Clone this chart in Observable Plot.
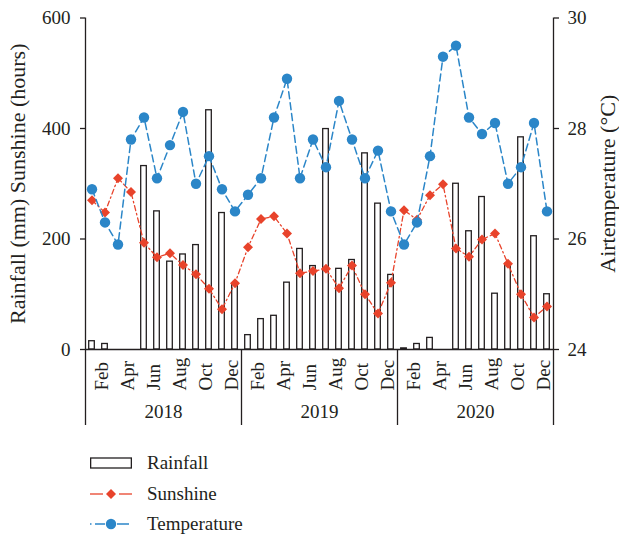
<!DOCTYPE html>
<html><head><meta charset="utf-8">
<script src="https://cdn.jsdelivr.net/npm/d3@7"></script>
<script src="https://cdn.jsdelivr.net/npm/@observablehq/plot@0.6"></script>
<style>
body{margin:0;background:#fff;}
#wrap{position:relative;width:619px;height:536px;font-family:"Liberation Serif","DejaVu Serif",serif;color:#231f20;}
.leg{position:absolute;left:90px;height:30px;display:flex;align-items:center;font-size:19px;white-space:nowrap;font-family:"Liberation Serif","DejaVu Serif",serif;}
.leg svg{margin-right:15px;display:block;}
#chart svg text{font-family:"Liberation Serif","DejaVu Serif",serif;}
</style></head><body>
<div id="wrap"><div id="chart"></div></div>
<script>
const months = ["Jan","Feb","Mar","Apr","May","Jun","Jul","Aug","Sep","Oct","Nov","Dec"];
const years = ["2018","2019","2020"];
const tickMonths = ["Feb","Apr","Jun","Aug","Oct","Dec"];
const leftTicks = [0,200,400,600];
const tempTicks = [24,26,28,30];

// Rainfall (mm), monthly Jan 2018 .. Dec 2020
const rainfall = [15,10,0,0,332,250,159,172,189,433,247,119,
                  26,55,61,121,182,151,399,146,162,355,264,135,
                  2,10,21,0,300,214,276,101,155,384,205,100];
// Sunshine (hours)
const sunshine = [270,248,310,285,193,167,174,153,136,110,73,120,
                  185,236,241,210,138,142,146,111,152,100,65,121,
                  252,235,279,299,183,168,199,210,155,100,58,78];
// Air temperature (°C)
const temperature = [26.9,26.3,25.9,27.8,28.2,27.1,27.7,28.3,27.0,27.5,26.9,26.5,
                     26.8,27.1,28.2,28.9,27.1,27.8,27.3,28.5,27.8,27.1,27.6,26.5,
                     25.9,26.3,27.5,29.3,29.5,28.2,27.9,28.1,27.0,27.3,28.1,26.5];

const data = rainfall.map((r, i) => ({
  i, month: months[i % 12], year: years[Math.floor(i / 12)],
  rain: r, sun: sunshine[i], temp: temperature[i]
}));
const toLeft = t => (t - 24) * 100;   // map right axis (°C) onto left scale
const RED = "#e8432b", BLUE = "#2b86c8", INK = "#231f20";
const H = 440, MT = 17.5, MB = 91;
const cx = d => d.i + 0.5;
const FONT = '"Liberation Serif", "DejaVu Serif", serif';

const chart = Plot.plot({
  width: 619, height: H,
  marginLeft: 85, marginRight: 66, marginTop: MT, marginBottom: MB,
  style: `font-family: ${FONT}; font-size: 19px; color: ${INK}; background: #fff; overflow: visible;`,
  x: {domain: [0, 36], axis: null},
  y: {domain: [0, 600], axis: null},
  marks: [
    Plot.rectY(data, {x1: d => d.i, x2: d => d.i + 1, y: "rain", insetLeft: 3.7, insetRight: 3.7,
      fill: "white", stroke: INK, strokeWidth: 1.3}),
    Plot.line(data, {x: cx, y: "sun", stroke: RED, strokeWidth: 1.3, strokeDasharray: "5,3,1.5,3"}),
    Plot.dot(data, {x: cx, y: "sun", symbol: "diamond2", r: 4.5, fill: RED}),
    Plot.line(data, {x: cx, y: d => toLeft(d.temp), stroke: BLUE, strokeWidth: 1.5, strokeDasharray: "7,4"}),
    Plot.dot(data, {x: cx, y: d => toLeft(d.temp), r: 5.2, fill: BLUE}),
    Plot.ruleY([0], {stroke: INK, strokeWidth: 1.3}),
    Plot.ruleX([0, 36], {stroke: INK, strokeWidth: 1.3}),
    Plot.ruleX([0, 12, 24, 36], {stroke: INK, strokeWidth: 1.3, insetTop: H - MT - MB, insetBottom: -76}),
    Plot.axisY({ticks: leftTicks, tickSize: 5, tickPadding: 10, label: null, strokeWidth: 1.3, fontSize: 19}),
    Plot.axisY({anchor: "right", ticks: tempTicks.map(toLeft), tickFormat: v => String(24 + v / 100),
      tickSize: 5, tickPadding: 9, label: null, strokeWidth: 1.3, fontSize: 19}),
    Plot.text(["Rainfall (mm) Sunshine (hours)"], {frameAnchor: "left", dx: -68, rotate: -90,
      textAnchor: "middle", lineAnchor: "middle", fontSize: 22, fill: INK}),
    Plot.text(["Airtemperature (°C)"], {frameAnchor: "right", dx: 54, rotate: -90,
      textAnchor: "middle", lineAnchor: "middle", fontSize: 22, fill: INK}),
    Plot.text(data.filter(d => tickMonths.includes(d.month)), {x: cx, text: "month", frameAnchor: "bottom",
      dx: -3, dy: 41, rotate: -90, textAnchor: "start", lineAnchor: "middle", fontSize: 19, fill: INK}),
    Plot.text(years, {x: (d, i) => i * 12 + 6, frameAnchor: "bottom", dy: 62, lineAnchor: "middle",
      textAnchor: "middle", fontSize: 19, fill: INK})
  ]
});
document.getElementById("chart").appendChild(chart);

// Legend
const wrap = document.getElementById("wrap");
const legendItems = [
  {label: "Rainfall", svg: `<svg width="42" height="30"><rect x="0.65" y="10" width="40.7" height="10" fill="white" stroke="${INK}" stroke-width="1.3"/></svg>`},
  {label: "Sunshine", svg: `<svg width="42" height="30"><line x1="0" x2="13" y1="15" y2="15" stroke="${RED}" stroke-width="1.3"/><line x1="29" x2="42" y1="15" y2="15" stroke="${RED}" stroke-width="1.3"/><path d="M21,10L26,15L21,20L16,15Z" fill="${RED}"/></svg>`},
  {label: "Temperature", svg: `<svg width="42" height="30"><line x1="0" x2="1.5" y1="15" y2="15" stroke="${BLUE}" stroke-width="1.5"/><line x1="5" x2="15" y1="15" y2="15" stroke="${BLUE}" stroke-width="1.5"/><line x1="27" x2="39" y1="15" y2="15" stroke="${BLUE}" stroke-width="1.5"/><circle cx="21" cy="15" r="5.2" fill="${BLUE}"/></svg>`}
];
legendItems.forEach((it, k) => {
  const div = document.createElement("div");
  div.className = "leg";
  div.style.top = (448 + k * 30.5) + "px";
  div.innerHTML = it.svg + `<span>${it.label}</span>`;
  wrap.appendChild(div);
});
</script>
</body></html>
